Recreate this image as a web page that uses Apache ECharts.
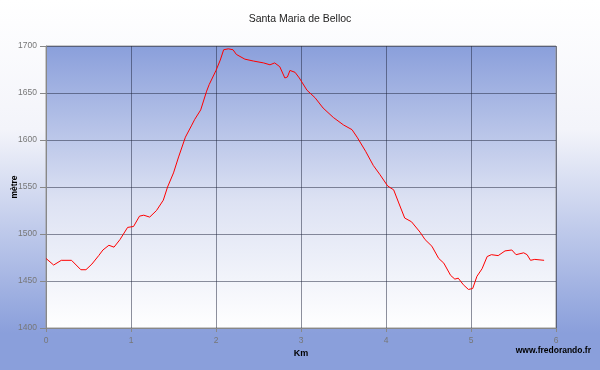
<!DOCTYPE html>
<html><head><meta charset="utf-8">
<script src="https://cdn.jsdelivr.net/npm/echarts@6/dist/echarts.min.js"></script>
<style>html,body{margin:0;padding:0;}#c{width:600px;height:370px;}</style>
</head><body><div id="c"></div>
<script>
var titleText = 'Santa Maria de Belloc';
var xName = 'Km';
var yName = 'mètre';
var credit = 'www.fredorando.fr';
var kms = [0.0,0.09,0.18,0.30,0.41,0.47,0.54,0.62,0.67,0.74,0.80,0.87,0.96,1.03,1.10,1.15,1.22,1.30,1.38,1.43,1.50,1.56,1.64,1.71,1.75,1.82,1.89,1.92,2.0,2.05,2.09,2.145,2.20,2.24,2.34,2.44,2.56,2.635,2.69,2.75,2.81,2.84,2.87,2.93,2.98,3.07,3.165,3.26,3.38,3.50,3.60,3.66,3.76,3.85,3.93,4.02,4.09,4.15,4.22,4.30,4.40,4.46,4.54,4.62,4.68,4.76,4.81,4.85,4.91,4.97,5.02,5.07,5.13,5.15,5.19,5.24,5.32,5.40,5.48,5.53,5.62,5.66,5.70,5.75,5.86];
var elevs = [1474,1467,1472,1472,1462,1462,1468,1477,1483,1488,1486,1494,1507,1508,1519,1520,1518,1525,1536,1550,1565,1582,1603,1615,1622,1632,1652,1659,1674,1685,1696,1697,1696,1691,1686,1684,1682,1680,1682,1678,1666,1667,1674,1672,1666,1653,1645,1634,1624,1616,1611,1603,1588,1573,1563,1551,1547,1533,1517,1513,1502,1494,1487,1474,1469,1456,1452,1453,1446,1441,1442,1455,1463,1463,1476,1478,1477,1482,1483,1478,1480,1478,1472,1473,1472];
var yTicks = {min:1400, max:1700, step:50};
var xTicks = {min:0, max:6, step:1};

var data = kms.map(function(k,i){return [k, elevs[i]];});
var chart = echarts.init(document.getElementById('c'));
chart.setOption({
  animation:false,
  backgroundColor: new echarts.graphic.LinearGradient(0,0,0,1,[
    {offset:0,color:'#ffffff'},{offset:0.35,color:'#f3f4fa'},{offset:0.9,color:'#8a9fdb'},{offset:1,color:'#8a9fdb'}]),
  title:{text:titleText,left:'center',top:9,textStyle:{fontFamily:'Arial, Liberation Sans',fontSize:10.5,fontWeight:'normal',color:'#222'}},
  grid:{left:46,right:44,top:46,bottom:42,containLabel:false,outerBoundsMode:'none',show:true,borderColor:'#999',borderWidth:1,
    backgroundColor:new echarts.graphic.LinearGradient(0,0,0,1,[{offset:0,color:'#8a9fdb'},{offset:0.55,color:'#dde2f3'},{offset:1,color:'#ffffff'}])},
  xAxis:{type:'value',min:xTicks.min,max:xTicks.max,interval:xTicks.step,
    name:xName,nameLocation:'middle',nameGap:21,nameMoveOverlap:false,nameTextStyle:{fontFamily:'Arial, Liberation Sans',fontSize:9,fontWeight:'bold',color:'#000'},
    axisLine:{show:true,lineStyle:{color:'#888'}},axisTick:{show:true,length:4,lineStyle:{color:'#888'}},
    axisLabel:{fontFamily:'Arial, Liberation Sans',fontSize:8.5,color:'#777',margin:8,formatter:function(v){return String(v);}},
    splitLine:{show:true,lineStyle:{color:'rgba(30,35,60,0.5)',width:1}}},
  yAxis:{type:'value',min:yTicks.min,max:yTicks.max,interval:yTicks.step,
    name:yName,nameLocation:'middle',nameGap:27,nameRotate:90,nameMoveOverlap:false,nameTextStyle:{fontFamily:'Arial, Liberation Sans',fontSize:8.5,fontWeight:'bold',color:'#000'},
    axisLine:{show:true,lineStyle:{color:'#888'}},axisTick:{show:true,length:6,lineStyle:{color:'#888'}},
    axisLabel:{fontFamily:'Arial, Liberation Sans',fontSize:8.5,color:'#777',margin:9,formatter:function(v){return String(v);}},
    splitLine:{show:true,lineStyle:{color:'rgba(30,35,60,0.5)',width:1}}},
  graphic:[{type:'text',right:9,top:346,style:{text:credit,font:'bold 8.5px Arial, Liberation Sans',fill:'#000'}}],
  series:[{type:'line',data:data,showSymbol:false,symbol:'none',lineStyle:{color:'#ff0000',width:1},smooth:false}]
});
</script></body></html>
